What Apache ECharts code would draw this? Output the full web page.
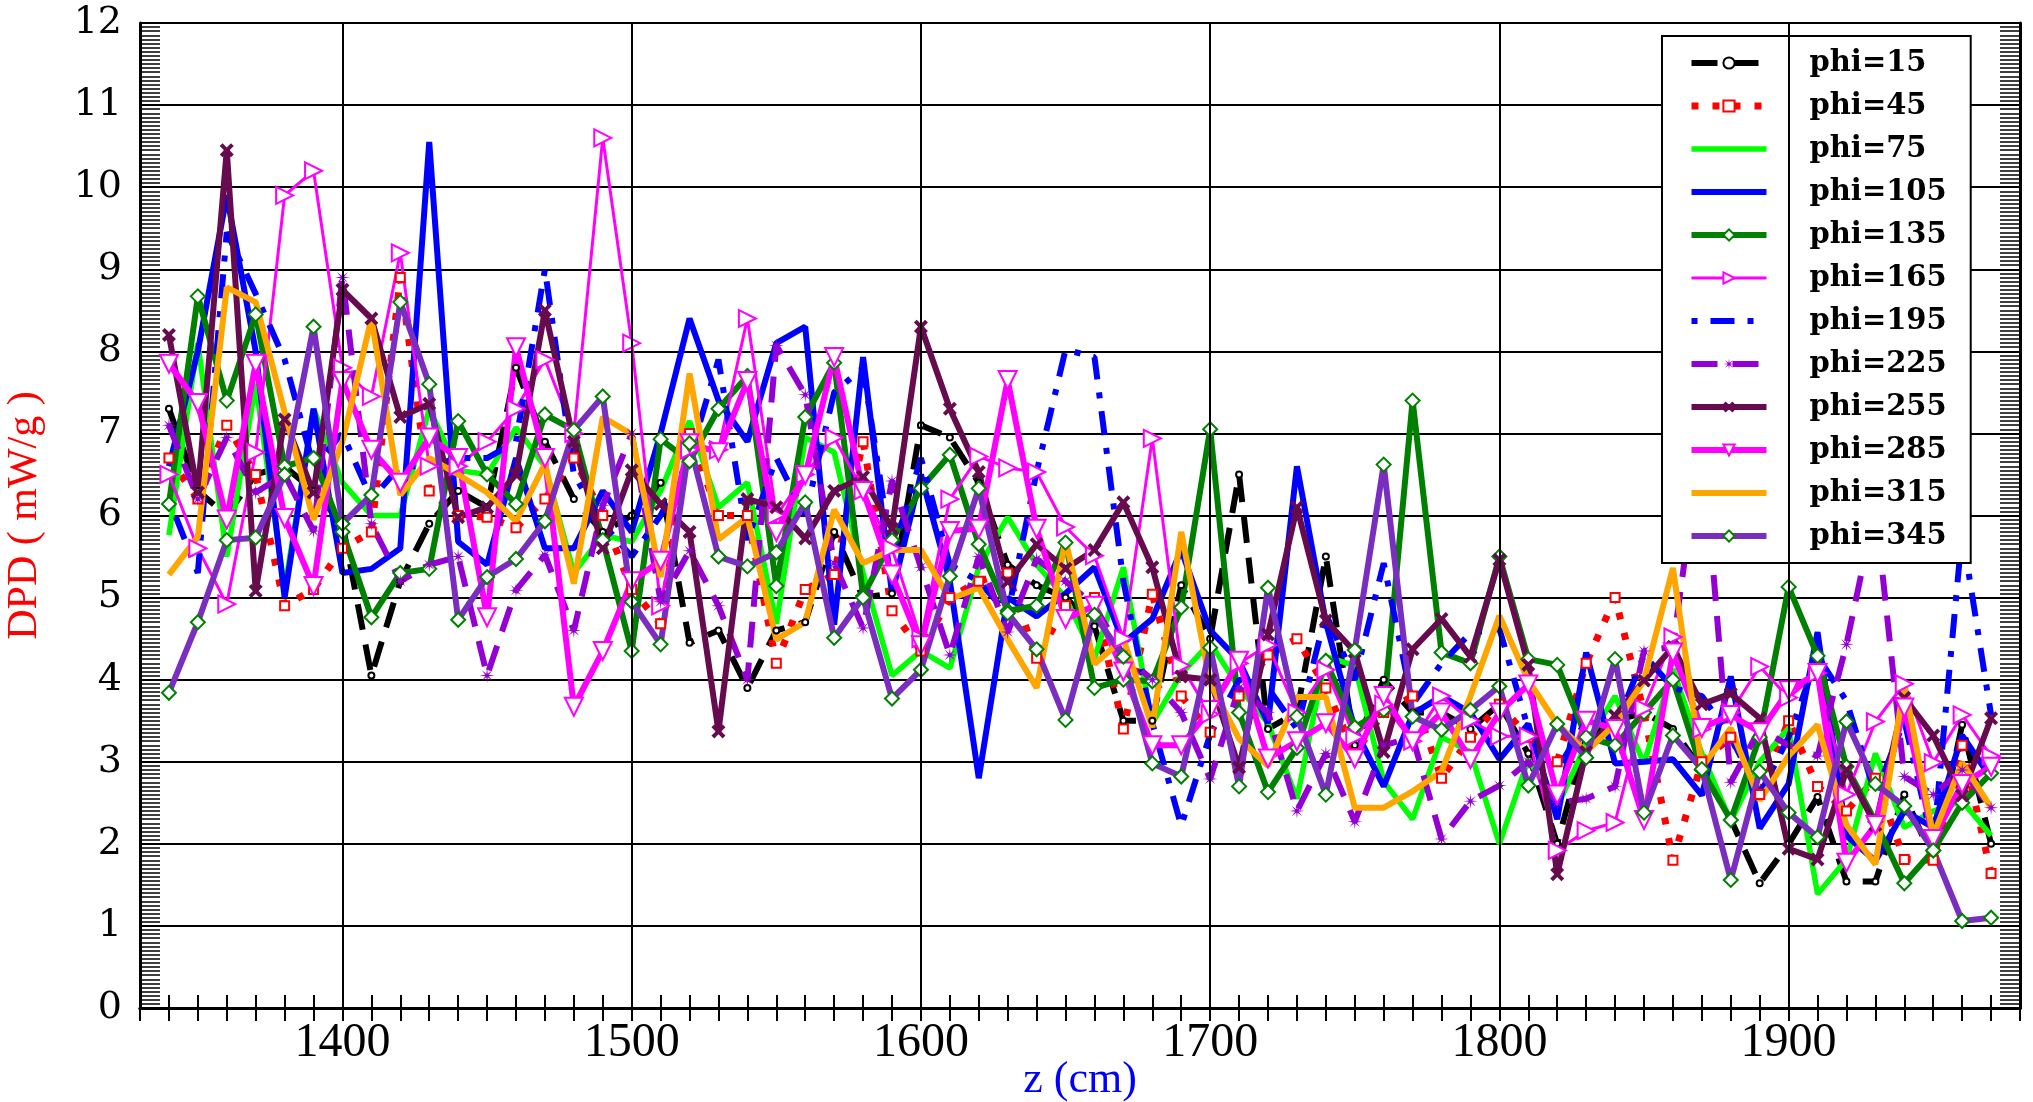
<!DOCTYPE html>
<html>
<head>
<meta charset="utf-8">
<title>DPD vs z</title>
<script src="https://cdn.jsdelivr.net/npm/echarts@6/dist/echarts.min.js"></script>
<style>
  html, body { margin: 0; padding: 0; background: #fff; }
  #chart { width: 2033px; height: 1102px; }
</style>
</head>
<body>
<div id="chart"></div>
<script>
// z positions (cm)
const zValues = [
  1340, 1350, 1360, 1370, 1380, 1390, 1400, 1410, 1420, 1430,
  1440, 1450, 1460, 1470, 1480, 1490, 1500, 1510, 1520, 1530,
  1540, 1550, 1560, 1570, 1580, 1590, 1600, 1610, 1620, 1630,
  1640, 1650, 1660, 1670, 1680, 1690, 1700, 1710, 1720, 1730,
  1740, 1750, 1760, 1770, 1780, 1790, 1800, 1810, 1820, 1830,
  1840, 1850, 1860, 1870, 1880, 1890, 1900, 1910, 1920, 1930,
  1940, 1950, 1960, 1970
]
const xTickLabels = [1400, 1500, 1600, 1700, 1800, 1900]

// DPD values (mW/g) per phi
const phi15 = [
  7.3, 6.3, 6.0, 6.5, 6.6, 6.3, 5.9, 4.05, 5.2, 5.9,
  6.3, 6.1, 7.8, 6.9, 6.2, 5.8, 6.0, 6.4, 4.45, 4.6,
  3.9, 4.6, 4.7, 5.8, 5.0, 5.05, 7.1, 6.95, 6.4, 5.4,
  5.15, 5.0, 4.65, 3.5, 3.5, 5.15, 4.5, 6.5, 3.4, 3.6,
  5.5, 3.2, 4.0, 3.6, 3.6, 3.4, 3.7, 3.1, 2.0, 3.3,
  3.5, 3.6, 3.4, 2.9, 2.3, 1.52, 2.0, 2.57, 1.54, 1.54,
  2.6, 1.8, 3.45, 2.0
]
const phi45 = [
  6.7, 6.2, 7.1, 6.5, 4.9, 5.1, 5.6, 5.8, 8.9, 6.3,
  6.0, 5.98, 5.85, 6.2, 6.7, 6.0, 5.1, 4.68, 7.0, 6.0,
  6.0, 4.2, 5.1, 5.28, 6.9, 4.84, 4.35, 5.0, 5.2, 5.3,
  4.26, 4.9, 5.0, 3.4, 5.04, 3.8, 3.36, 3.8, 4.3, 4.5,
  3.9, 3.1, 3.6, 3.8, 2.8, 3.3, 3.7, 3.3, 3.0, 4.2,
  5.0, 3.6, 1.8, 3.0, 3.3, 2.6, 3.5, 2.7, 2.4, 2.8,
  1.81, 1.8, 3.2, 1.64
]
const phi75 = [
  5.76, 8.1, 5.5, 7.6, 5.1, 7.3, 6.4, 6.0, 6.0, 7.3,
  6.55, 6.5, 7.07, 6.6, 5.3, 5.76, 5.68, 6.3, 7.15, 6.1,
  6.4, 4.68, 6.95, 6.77, 5.3, 4.05, 4.35, 4.14, 5.37, 5.98,
  5.4, 5.0, 4.26, 5.37, 3.47, 4.07, 4.45, 3.9, 3.47, 2.55,
  4.28, 4.17, 2.76, 2.3, 3.3, 3.12, 2.0, 3.03, 2.45, 3.22,
  3.8, 2.98, 4.13, 3.1, 2.27, 3.0, 3.41, 1.39, 1.81, 3.1,
  2.2, 2.4, 2.52, 2.1
]
const phi105 = [
  6.6, 8.0, 9.9, 8.0, 5.0, 7.3, 5.3, 5.35, 5.6, 10.55,
  5.68, 5.4, 6.7, 5.6, 5.6, 6.3, 5.8, 7.0, 8.4, 7.4,
  6.9, 8.1, 8.3, 4.67, 7.93, 5.05, 6.5, 5.2, 2.8, 5.0,
  4.77, 5.05, 5.37, 4.45, 4.74, 5.58, 4.6, 4.23, 3.47, 6.6,
  4.7, 3.4, 2.7, 3.58, 3.8, 3.6, 3.03, 3.46, 2.3, 4.33,
  2.98, 3.0, 3.03, 2.59, 4.04, 2.19, 2.73, 4.58, 2.1, 1.79,
  2.4, 2.2, 3.32, 2.8
]
const phi135 = [
  6.14, 8.67, 7.4, 8.45, 6.6, 6.7, 5.8, 4.76, 5.3, 5.35,
  7.15, 6.5, 6.14, 7.23, 7.04, 5.7, 4.35, 6.93, 6.66, 7.3,
  7.7, 5.14, 7.2, 7.86, 5.02, 5.7, 6.33, 6.74, 5.65, 4.84,
  4.9, 5.67, 3.9, 4.0, 3.98, 4.88, 7.05, 3.6, 2.63, 3.17,
  4.23, 3.42, 3.63, 7.4, 4.33, 4.2, 5.5, 4.25, 4.18, 3.3,
  3.2, 3.6, 4.0, 2.9, 2.29, 3.3, 5.13, 4.29, 2.94, 2.27,
  1.52, 1.92, 2.5, 2.86
]
const phi165 = [
  6.5, 5.6, 4.92, 6.77, 9.9, 10.2, 7.8, 7.45, 9.2, 6.6,
  6.6, 6.9, 7.3, 7.9, 7.0, 10.6, 8.1, 4.9, 6.8, 6.8,
  8.4, 6.0, 6.5, 6.95, 6.3, 5.6, 4.5, 6.2, 6.72, 6.58,
  6.53, 5.86, 5.51, 4.5, 6.94, 4.17, 3.58, 4.2, 4.42, 3.6,
  4.12, 3.3, 3.7, 3.25, 3.8, 3.5, 3.31, 3.31, 1.92, 2.16,
  2.26, 3.65, 4.52, 3.4, 3.6, 4.16, 3.78, 4.08, 2.6, 3.49,
  3.95, 2.99, 3.57, 3.07
]
const phi195 = [
  6.2, 5.3, 9.45, 8.7, 7.9, 6.6, 7.0, 6.2, 6.6, 6.6,
  6.7, 6.7, 6.9, 9.0, 6.5, 5.9, 5.5, 6.0, 6.7, 7.9,
  5.7, 6.7, 6.0, 7.5, 7.8, 5.5, 6.7, 5.4, 5.2, 4.8,
  6.53, 8.02, 7.93, 5.2, 3.47, 2.22, 3.33, 4.0, 3.9, 3.4,
  4.8, 4.0, 5.42, 3.7, 4.2, 4.57, 4.62, 3.4, 2.9, 3.5,
  3.4, 4.3, 3.9, 3.8, 3.3, 2.6, 3.3, 4.29, 3.74, 2.6,
  3.5, 1.98, 5.8, 3.57
]
const phi225 = [
  7.1, 6.2, 6.95, 6.28, 6.5, 5.81, 8.9, 5.9, 5.2, 5.4,
  5.5, 4.05, 5.09, 5.52, 4.6, 6.12, 7.0, 4.95, 5.57, 4.9,
  4.0, 8.07, 7.47, 5.42, 4.63, 6.42, 5.37, 4.3, 5.5, 4.58,
  5.47, 5.2, 4.9, 4.3, 4.0, 3.6, 2.79, 3.9, 3.6, 2.4,
  3.1, 2.27, 3.2, 3.3, 2.06, 2.52, 2.71, 3.0, 2.5, 2.55,
  2.7, 4.35, 4.4, 7.0, 2.75, 3.4, 3.2, 3.07, 4.43, 6.1,
  2.82, 2.6, 2.9, 2.44
]
const phi255 = [
  8.2, 6.28, 10.45, 5.08, 7.17, 6.28, 8.75, 8.4, 7.2, 7.36,
  5.98, 6.1, 6.5, 8.5, 6.9, 5.6, 6.55, 6.14, 5.8, 3.37,
  6.2, 6.1, 5.72, 6.3, 6.47, 5.84, 8.3, 7.3, 6.53, 5.19,
  5.65, 5.35, 5.58, 6.16, 5.37, 4.04, 4.0, 2.93, 4.55, 6.1,
  4.72, 4.34, 3.12, 4.37, 4.74, 4.28, 5.46, 4.18, 1.63, 3.12,
  3.56, 3.99, 4.4, 3.7, 3.83, 3.53, 1.94, 1.81, 2.9, 2.23,
  3.78, 3.32, 2.59, 3.53
]
const phi285 = [
  7.85, 7.37, 5.95, 7.85, 5.97, 5.14, 7.64, 6.8, 6.4, 6.95,
  6.7, 4.76, 8.05, 6.7, 3.67, 4.35, 5.2, 5.45, 6.88, 6.77,
  7.64, 5.8, 6.49, 7.93, 6.3, 5.28, 4.42, 5.81, 5.84, 7.65,
  5.84, 4.74, 4.9, 4.1, 3.2, 3.2, 3.63, 4.23, 3.04, 3.25,
  3.47, 3.04, 3.8, 3.25, 3.6, 3.03, 3.6, 3.94, 2.6, 3.5,
  3.4, 2.29, 4.33, 3.41, 3.57, 3.36, 3.87, 4.08, 1.77, 2.23,
  3.66, 2.06, 2.73, 2.94
]
const phi315 = [
  5.28, 5.74, 8.78, 8.6, 7.26, 5.95, 6.9, 8.4, 6.25, 6.7,
  6.5, 6.28, 5.93, 6.63, 5.17, 7.2, 6.99, 5.25, 7.73, 5.71,
  5.98, 4.49, 4.7, 6.07, 5.42, 5.58, 5.58, 4.98, 5.12, 4.49,
  3.9, 5.7, 4.19, 4.5, 3.42, 5.8, 3.96, 3.28, 2.95, 3.79,
  3.79, 2.44, 2.44, 2.64, 2.88, 3.8, 4.78, 3.99, 3.46, 3.12,
  3.46, 3.99, 5.36, 2.93, 3.41, 2.53, 3.07, 3.45, 2.23, 1.75,
  3.95, 2.1, 2.99, 2.44
]
const phi345 = [
  3.84, 4.7, 5.7, 5.73, 6.5, 8.3, 5.9, 6.25, 8.6, 7.6,
  4.73, 5.25, 5.47, 5.93, 7.04, 7.45, 4.95, 4.43, 6.88, 5.5,
  5.38, 5.55, 6.16, 4.51, 5.0, 3.77, 4.12, 5.26, 6.33, 4.81,
  4.37, 3.51, 4.79, 4.28, 2.98, 2.82, 4.39, 2.7, 5.12, 3.55,
  2.6, 4.36, 6.62, 3.55, 3.39, 3.63, 3.92, 2.71, 3.46, 3.05,
  4.25, 2.38, 3.32, 2.91, 1.56, 2.88, 2.38, 2.08, 3.49, 2.73,
  2.46, 1.92, 1.06, 1.1
]

// marker shapes
function starPath() {
  let pts = []
  for (let k = 0; k < 16; k++) {
    let a = k * Math.PI / 8
    let r = k % 2 === 0 ? 10 : 2.5
    pts.push((10 + r * Math.cos(a)).toFixed(2) + ' ' + (10 + r * Math.sin(a)).toFixed(2))
  }
  return 'path://M' + pts.join(' L') + ' Z'
}
const crossPath = 'path://M2 0 L5 3 L8 0 L10 2 L7 5 L10 8 L8 10 L5 7 L2 10 L0 8 L3 5 L0 2 Z'

function pairs(vals) {
  return zValues.map((z, i) => [z, vals[i]])
}

function mkSeries(name, vals, color, width, dash, symbol, symbolSize, symbolColor, rotate) {
  return {
    name: name,
    type: 'line',
    data: pairs(vals),
    symbol: symbol || 'none',
    symbolSize: symbolSize || 0,
    symbolRotate: rotate || 0,
    showSymbol: !!symbol,
    itemStyle: { color: symbolColor || color, borderWidth: 2 },
    lineStyle: { color: color, width: width, type: dash || 'solid' },
    emphasis: { disabled: true }
  }
}

let series = [
  mkSeries('phi=15', phi15, '#000000', 6, [26, 15], 'emptyCircle', 6),
  mkSeries('phi=45', phi45, '#ff0000', 7, [7, 14], 'emptyRect', 9),
  mkSeries('phi=75', phi75, '#00ff00', 5.5),
  mkSeries('phi=105', phi105, '#0000ff', 6),
  mkSeries('phi=135', phi135, '#008000', 6, null, 'emptyDiamond', 14),
  mkSeries('phi=165', phi165, '#ff00ff', 3, null, 'emptyTriangle', 17, null, -90),
  mkSeries('phi=195', phi195, '#0000ff', 6, [6, 13, 24, 13]),
  mkSeries('phi=225', phi225, '#9400d3', 6, [26, 15], starPath(), 15),
  mkSeries('phi=255', phi255, '#660b4e', 6, null, crossPath, 14),
  mkSeries('phi=285', phi285, '#ff00ff', 6, null, 'emptyTriangle', 18, null, 180),
  mkSeries('phi=315', phi315, '#ffa500', 6),
  mkSeries('phi=345', phi345, '#7a2ebf', 6, null, 'emptyDiamond', 14, '#008000')
]

// legend entries: hide the middle dot for series drawn without markers
let legendData = series.map(s => s.showSymbol
  ? { name: s.name }
  : { name: s.name, itemStyle: { opacity: 0 } })

// vertical grid lines at the labelled z values
series.unshift({
  name: 'grid',
  type: 'line',
  data: [],
  z: 1,
  silent: true,
  markLine: {
    silent: true,
    symbol: 'none',
    label: { show: false },
    lineStyle: { color: '#000', width: 2, type: 'solid' },
    data: xTickLabels.map(v => ({ xAxis: v }))
  }
})

let myChart = echarts.init(document.getElementById('chart'))
myChart.setOption({
  animation: false,
  backgroundColor: '#fff',
  grid: { left: 140, right: 13, top: 23, bottom: 94, containLabel: false, outerBoundsMode: 'none' },
  legend: {
    data: legendData,
    orient: 'vertical',
    left: 1662,
    top: 36,
    itemWidth: 75,
    itemHeight: 14,
    itemGap: 13,
    padding: [12, 24, 12, 26],
    backgroundColor: '#fff',
    borderColor: '#000',
    borderWidth: 2,
    lineStyle: { width: 'inherit', type: 'inherit' },
    textStyle: {
      fontFamily: 'DejaVu Serif',
      fontWeight: 'bold',
      fontSize: 29,
      color: '#000',
      lineHeight: 30,
      padding: [0, 0, 0, 38]
    }
  },
  xAxis: [
    {
      type: 'value',
      min: 1330,
      max: 1980,
      interval: 10,
      name: 'z (cm)',
      nameLocation: 'middle',
      nameGap: 50,
      nameMoveOverlap: false,
      nameTextStyle: { color: '#0000ff', fontFamily: 'Liberation Serif', fontSize: 44 },
      axisLine: { show: true, lineStyle: { color: '#000', width: 3 } },
      axisTick: { show: true, inside: true, length: 13, lineStyle: { color: '#000', width: 2 } },
      axisLabel: {
        color: '#000',
        fontFamily: 'Liberation Serif',
        fontSize: 48,
        margin: 11,
        formatter: function (v) { return v % 100 === 0 ? String(v) : '' }
      },
      splitLine: { show: false }
    },
    {
      type: 'value',
      position: 'top',
      min: 1330,
      max: 1980,
      interval: 10,
      axisLine: { show: true, lineStyle: { color: '#000', width: 3 } },
      axisTick: { show: true, inside: true, length: 13, lineStyle: { color: '#000', width: 2 } },
      axisLabel: { show: false },
      splitLine: { show: false }
    }
  ],
  yAxis: [
    {
      type: 'value',
      min: 0,
      max: 12,
      interval: 1,
      name: 'DPD ( mW/g )',
      nameLocation: 'middle',
      nameRotate: 90,
      nameGap: 94,
      nameMoveOverlap: false,
      nameTextStyle: { color: '#ff0000', fontFamily: 'Liberation Serif', fontSize: 42 },
      axisLine: { show: true, lineStyle: { color: '#000', width: 3 } },
      axisTick: { show: true, inside: true, length: 20, lineStyle: { color: '#000', width: 2 } },
      minorTick: { show: true, splitNumber: 20, length: 20, lineStyle: { color: '#000', width: 1.5 } },
      axisLabel: { color: '#000', fontFamily: 'DejaVu Serif', fontSize: 38, margin: 18 },
      splitLine: { show: true, lineStyle: { color: '#000', width: 2 } }
    },
    {
      type: 'value',
      position: 'right',
      min: 0,
      max: 12,
      interval: 1,
      axisLine: { show: true, lineStyle: { color: '#000', width: 3 } },
      axisTick: { show: true, inside: true, length: 20, lineStyle: { color: '#000', width: 2 } },
      minorTick: { show: true, splitNumber: 20, length: 20, lineStyle: { color: '#000', width: 1.5 } },
      axisLabel: { show: false },
      splitLine: { show: false }
    }
  ],
  series: series
})
</script>
</body>
</html>
